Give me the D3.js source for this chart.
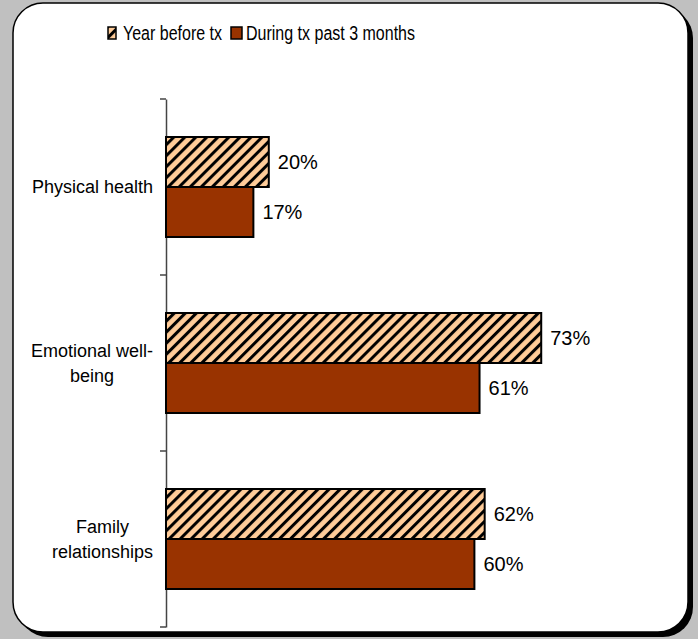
<!DOCTYPE html>
<html><head><meta charset="utf-8">
<script src="https://cdn.jsdelivr.net/npm/d3@7"></script>
<style>html,body{margin:0;padding:0;background:#c0c0c0;}svg{display:block;font-family:Arial,"Liberation Sans",sans-serif;}</style>
</head><body>
<script>
const categories = ["Physical health", "Emotional well-being", "Family relationships"];
const categoryLines = [["Physical health"], ["Emotional well-", "being"], ["Family", "relationships"]];
const seriesNames = ["Year before tx", "During tx past 3 months"];
const yearBefore = [20, 73, 62];
const duringTx = [17, 61, 60];

const W = 698, H = 639;
const svg = d3.select("body").append("svg").attr("width", W).attr("height", H);
const defs = svg.append("defs");
const pat = defs.append("pattern").attr("id", "hatch").attr("patternUnits", "userSpaceOnUse")
  .attr("width", 7.8).attr("height", 7.8).attr("patternTransform", "rotate(45)");
pat.append("rect").attr("width", 7.8).attr("height", 7.8).attr("fill", "#ffcc99");
pat.append("rect").attr("x", 0).attr("width", 3).attr("height", 7.8).attr("fill", "#000");

// background and frame
svg.append("rect").attr("width", W).attr("height", H).attr("fill", "#c0c0c0");
svg.append("rect").attr("x", 18).attr("y", 8).attr("width", 675).attr("height", 629).attr("rx", 30).attr("fill", "#000");
svg.append("rect").attr("x", 13).attr("y", 3).attr("width", 675).attr("height", 629).attr("rx", 30)
  .attr("fill", "#fff").attr("stroke", "#000").attr("stroke-width", 1.5);

const x = d3.scaleLinear().domain([0, 100]).range([166, 680]);
const y = d3.scaleBand().domain(categories).range([99, 627]);
const inner = d3.scaleBand().domain(seriesNames).range([0, y.bandwidth()]).paddingOuter(0.76).paddingInner(0);

// axis
const axisG = svg.append("g").attr("transform", "translate(166,0)")
  .call(d3.axisLeft(y).tickSize(0).tickFormat(""));
axisG.select(".domain").attr("stroke", "#444").attr("stroke-width", 1.5);
const bounds = categories.map(c => y(c)).concat([y.range()[1]]);
svg.append("g").selectAll("line").data(bounds).join("line")
  .attr("x1", 160).attr("x2", 166).attr("y1", d => d).attr("y2", d => d)
  .attr("stroke", "#444").attr("stroke-width", 1.5);

// bars
const series = [
  {name: seriesNames[0], values: yearBefore, fill: "url(#hatch)"},
  {name: seriesNames[1], values: duringTx, fill: "#993300"}
];
series.forEach(s => {
  const g = svg.append("g");
  g.selectAll("rect").data(categories).join("rect")
    .attr("x", x(0)).attr("y", c => y(c) + inner(s.name))
    .attr("width", (c, i) => x(s.values[i]) - x(0)).attr("height", inner.bandwidth())
    .attr("fill", s.fill).attr("stroke", "#000").attr("stroke-width", 2);
  g.selectAll("text").data(categories).join("text")
    .attr("x", (c, i) => x(s.values[i]) + 9).attr("y", c => y(c) + inner(s.name) + inner.bandwidth() / 2)
    .attr("dy", "0.36em").attr("font-size", 20).attr("fill", "#000")
    .text((c, i) => s.values[i] + "%");
});

// category labels
categories.forEach((c, i) => {
  const lines = categoryLines[i];
  const cy = y(c) + y.bandwidth() / 2;
  const lh = 25.5;
  const t = svg.append("text").attr("font-size", 18).attr("text-anchor", "middle").attr("fill", "#000");
  lines.forEach((l, j) => {
    t.append("tspan").attr("x", 0).attr("y", cy + (j - (lines.length - 1) / 2) * lh).attr("dy", "0.36em").text(l);
  });
  let maxw = 0;
  t.selectAll("tspan").each(function() { maxw = Math.max(maxw, this.getComputedTextLength()); });
  t.selectAll("tspan").attr("x", 153 - maxw / 2);
});

// legend
const leg = svg.append("g");
const legItems = [
  {name: seriesNames[0], fill: "url(#hatch)", bx: 108, bw: 8, tx: 123, tl: 99},
  {name: seriesNames[1], fill: "#993300", bx: 231, bw: 11, tx: 246, tl: 169}
];
legItems.forEach(d => {
  leg.append("rect").attr("x", d.bx).attr("y", 27).attr("width", d.bw).attr("height", 12)
    .attr("fill", d.fill).attr("stroke", "#000").attr("stroke-width", 1.5);
  leg.append("text").attr("x", d.tx).attr("y", 40).attr("font-size", 19.5)
    .attr("textLength", d.tl).attr("lengthAdjust", "spacingAndGlyphs").attr("fill", "#000").text(d.name);
});
</script>
</body></html>
